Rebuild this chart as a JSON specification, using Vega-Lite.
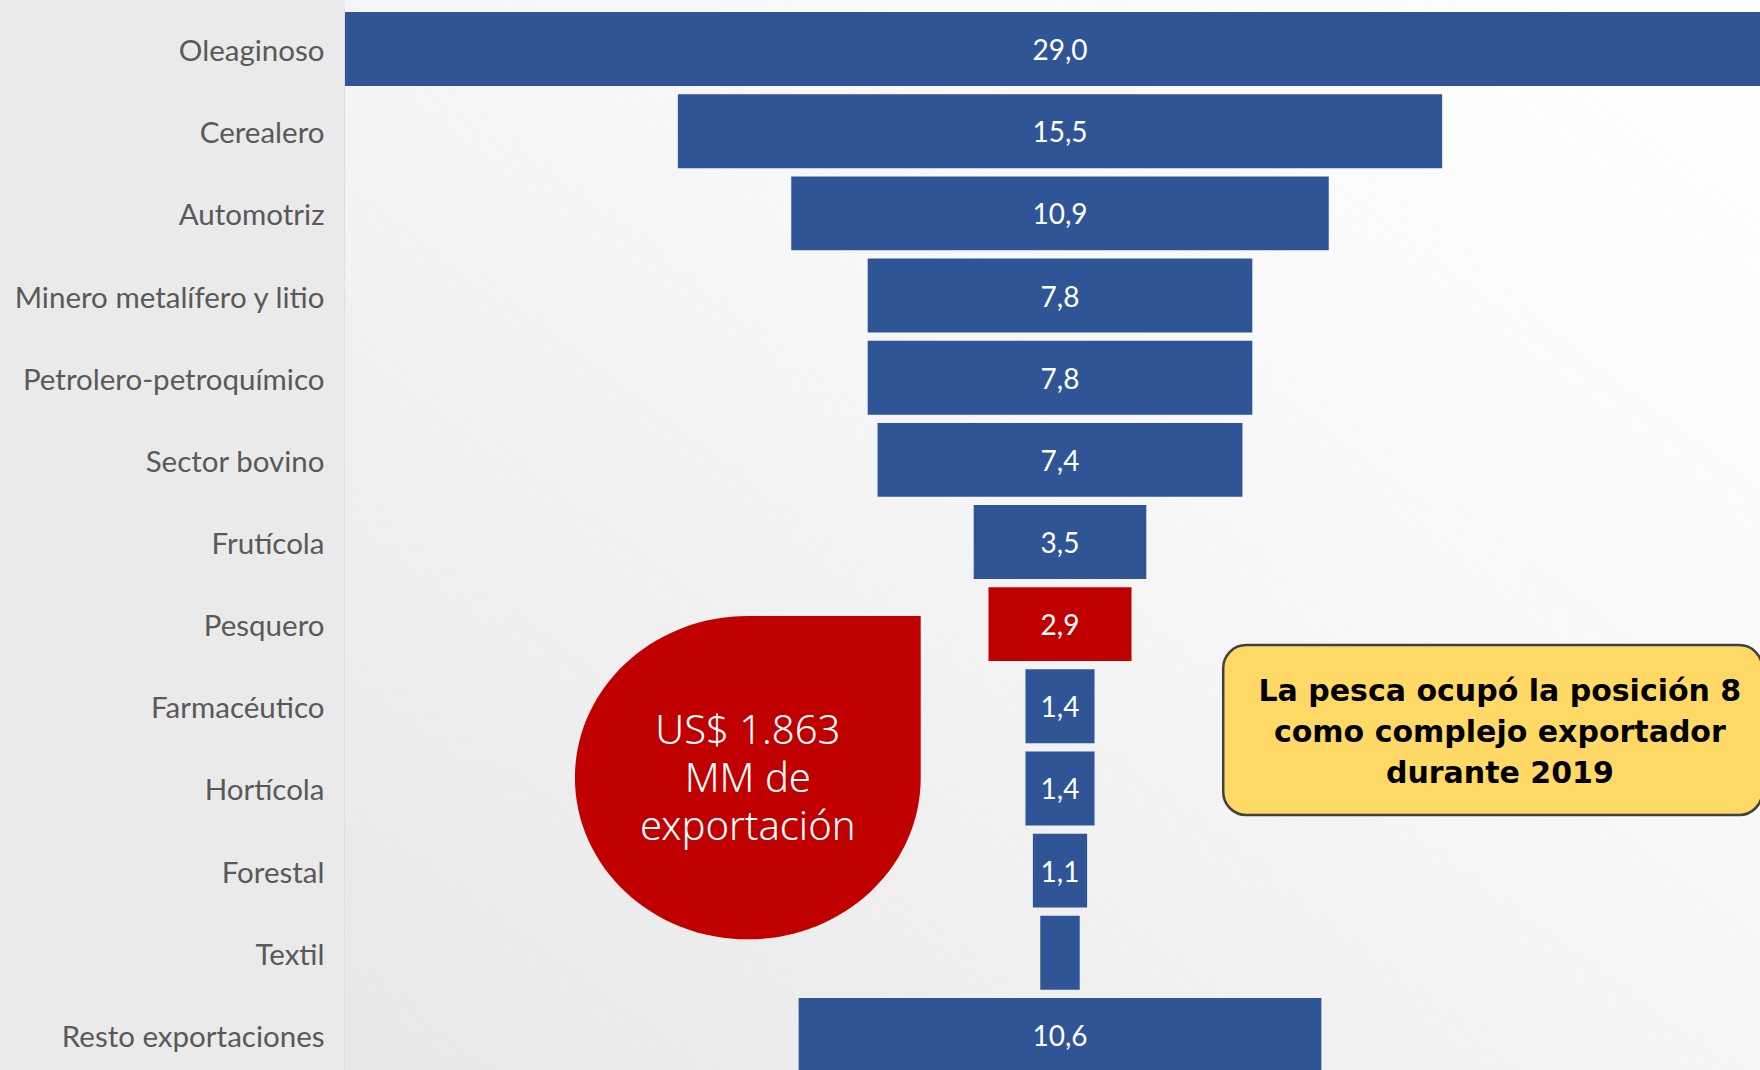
{
  "$schema": "https://vega.github.io/schema/vega-lite/v6.json",
  "width": 1430,
  "height": 1068,
  "autosize": "none",
  "padding": {"left": 345, "top": 8, "right": 0, "bottom": 0},
  "background": "#eaeaea",
  "config": {"view": {"stroke": null}},
  "data": {
    "values": [
      {"sector": "Oleaginoso", "valor": 29.0, "etiqueta": "29,0"},
      {"sector": "Cerealero", "valor": 15.5, "etiqueta": "15,5"},
      {"sector": "Automotriz", "valor": 10.9, "etiqueta": "10,9"},
      {"sector": "Minero metalífero y litio", "valor": 7.8, "etiqueta": "7,8"},
      {"sector": "Petrolero-petroquímico", "valor": 7.8, "etiqueta": "7,8"},
      {"sector": "Sector bovino", "valor": 7.4, "etiqueta": "7,4"},
      {"sector": "Frutícola", "valor": 3.5, "etiqueta": "3,5"},
      {"sector": "Pesquero", "valor": 2.9, "etiqueta": "2,9"},
      {"sector": "Farmacéutico", "valor": 1.4, "etiqueta": "1,4"},
      {"sector": "Hortícola", "valor": 1.4, "etiqueta": "1,4"},
      {"sector": "Forestal", "valor": 1.1, "etiqueta": "1,1"},
      {"sector": "Textil", "valor": 0.8, "etiqueta": ""},
      {"sector": "Resto exportaciones", "valor": 10.6, "etiqueta": "10,6"}
    ]
  },
  "layer": [
    {
      "data": {"values": [{"capa": "fondo"}]},
      "mark": {
        "type": "rect",
        "fill": {
          "gradient": "linear",
          "x1": 0, "y1": 1, "x2": 1, "y2": 0,
          "stops": [
            {"offset": 0, "color": "#e7e7e7"},
            {"offset": 0.6, "color": "#f8f8f8"},
            {"offset": 1, "color": "#ffffff"}
          ]
        }
      },
      "encoding": {
        "x": {"datum": 0, "type": "quantitative", "scale": {"domain": [0, 29], "nice": false, "zero": false}, "axis": null},
        "x2": {"datum": 29.5},
        "y": {"datum": -0.2, "type": "quantitative", "scale": {"domain": [0, 13], "reverse": true, "nice": false, "zero": false}, "axis": null},
        "y2": {"datum": 13.2}
      }
    },
    {
      "layer": [
        {
          "mark": {"type": "bar"},
          "encoding": {
            "y": {
              "field": "sector", "type": "nominal", "sort": null, "title": null,
              "scale": {"paddingInner": 0.1, "paddingOuter": 0.05},
              "axis": {
                "labelFont": "Lato", "labelFontSize": 29.5, "labelColor": "#595959",
                "labelPadding": 21, "labelOffset": 3, "ticks": false, "tickSize": 0,
                "domainColor": "#d2d2d2", "domainWidth": 2, "labelLimit": 500, "grid": false
              }
            },
            "x": {
              "field": "valor", "type": "quantitative", "stack": "center",
              "scale": {"domain": [0, 29], "nice": false, "zero": false}, "axis": null
            },
            "color": {
              "condition": {"test": "datum.sector === 'Pesquero'", "value": "#C00000"},
              "value": "#2F5597"
            }
          }
        },
        {
          "mark": {"type": "text", "font": "Lato", "fontSize": 28, "color": "#ffffff", "align": "center", "baseline": "middle", "dy": 3},
          "encoding": {
            "y": {
              "field": "sector", "type": "nominal", "sort": null, "title": null,
              "axis": {
                "labelFont": "Lato", "labelFontSize": 29.5, "labelColor": "#595959",
                "labelPadding": 21, "labelOffset": 3, "ticks": false, "tickSize": 0,
                "domainColor": "#d2d2d2", "domainWidth": 2, "labelLimit": 500, "grid": false
              }
            },
            "x": {"datum": 14.5, "type": "quantitative", "scale": {"domain": [0, 29], "nice": false, "zero": false}},
            "text": {"field": "etiqueta"}
          }
        }
      ]
    },
    {
      "layer": [
        {
          "data": {"values": [{"nota": "burbuja"}]},
          "mark": {
            "type": "point",
            "shape": "M 0 -0.935 L 1 -0.935 L 1 0 A 1 0.935 0 1 1 0 -0.935 Z",
            "filled": true, "fill": "#C00000", "opacity": 1, "size": 119578, "strokeWidth": 0
          },
          "encoding": {
            "x": {"datum": 8.169, "type": "quantitative", "scale": {"domain": [0, 29], "nice": false, "zero": false}},
            "y": {"datum": 9.369, "type": "quantitative", "scale": {"domain": [0, 13], "reverse": true, "nice": false, "zero": false}, "axis": null}
          }
        },
        {
          "data": {"values": [{"texto": "US$ 1.863\nMM de\nexportación"}]},
          "mark": {
            "type": "text", "font": "Noto Sans", "fontWeight": 300, "fontSize": 40, "color": "#ffffff",
            "align": "center", "baseline": "middle", "lineBreak": "\n", "lineHeight": 48
          },
          "encoding": {
            "x": {"datum": 8.169, "type": "quantitative"},
            "y": {"datum": 8.809, "type": "quantitative"},
            "text": {"field": "texto"}
          }
        },
        {
          "data": {"values": [{"nota": "recuadro"}]},
          "mark": {"type": "rect", "fill": "#FFD966", "stroke": "#404040", "strokeWidth": 2.5, "cornerRadius": 23},
          "encoding": {
            "x": {"datum": 17.81, "type": "quantitative"},
            "x2": {"datum": 28.74},
            "y": {"datum": 7.754, "type": "quantitative"},
            "y2": {"datum": 9.823}
          }
        },
        {
          "data": {"values": [{"texto": "La pesca ocupó la posición 8\ncomo complejo exportador\ndurante 2019"}]},
          "mark": {
            "type": "text", "font": "DejaVu Sans", "fontWeight": "bold", "fontSize": 30, "color": "#000000",
            "align": "center", "baseline": "middle", "lineBreak": "\n", "lineHeight": 41
          },
          "encoding": {
            "x": {"datum": 23.42, "type": "quantitative"},
            "y": {"datum": 8.33, "type": "quantitative"},
            "text": {"field": "texto"}
          }
        }
      ]
    }
  ],
  "resolve": {"scale": {"y": "independent"}}
}
